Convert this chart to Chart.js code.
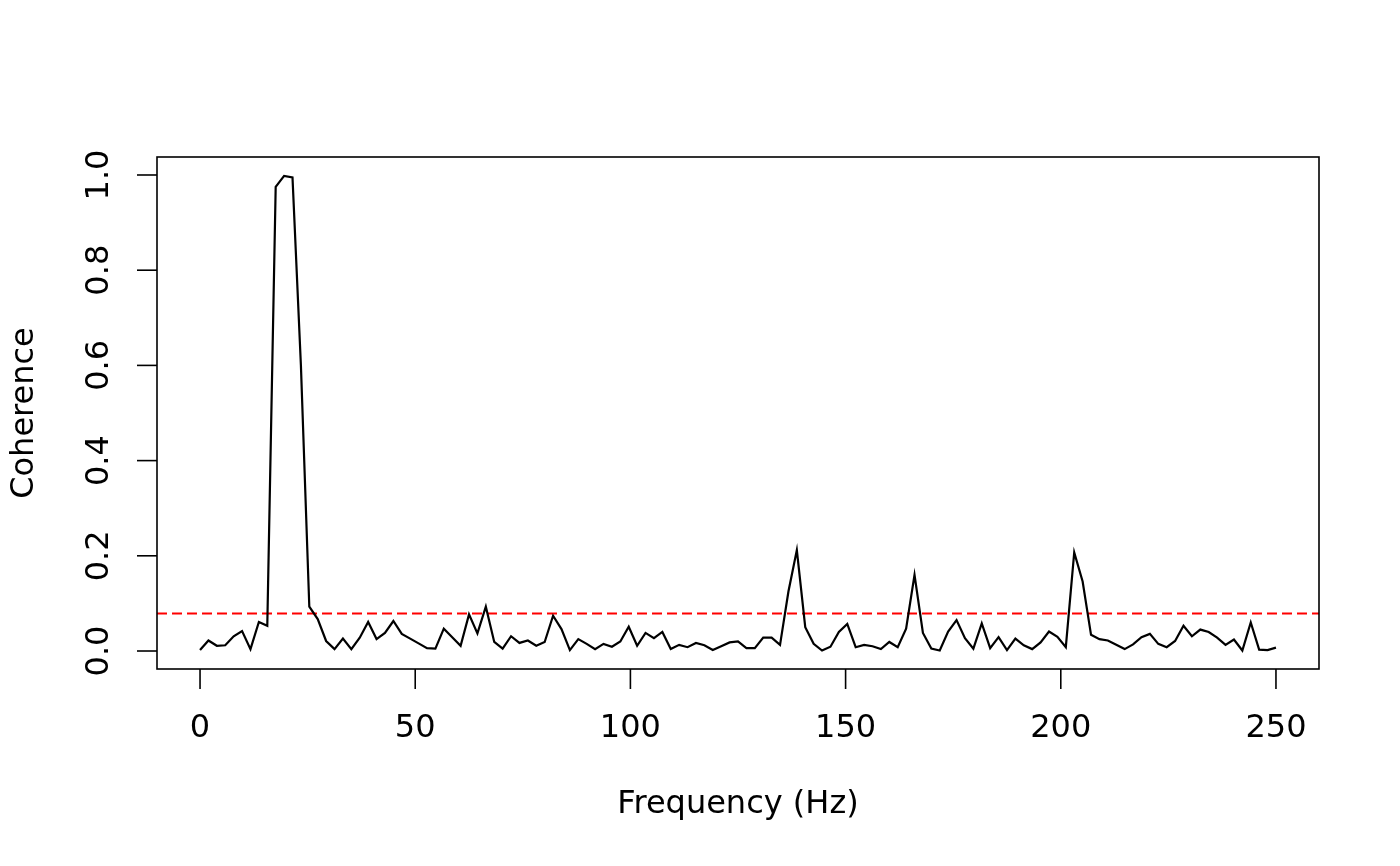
<!DOCTYPE html>
<html>
<head>
<meta charset="utf-8">
<script src="https://cdn.jsdelivr.net/npm/chart.js@4"></script>
<style>
  html, body { margin: 0; padding: 0; background: #fff; }
  #wrap { width: 1400px; height: 866px; }
</style>
</head>
<body>
<div id="wrap"><canvas id="cohChart" width="1400" height="866"></canvas></div>
<script>
// Coherence estimate, one value per frequency bin (0..250 Hz, 129 bins)
const coherence = [
    0.002, 0.022, 0.011, 0.012, 0.031, 0.042, 0.004, 0.061, 0.053, 0.975,
    0.998, 0.995, 0.600, 0.093, 0.067, 0.021, 0.004, 0.026, 0.004, 0.028,
    0.061, 0.025, 0.038, 0.063, 0.036, 0.026, 0.016, 0.006, 0.005, 0.047,
    0.029, 0.011, 0.077, 0.037, 0.093, 0.019, 0.005, 0.031, 0.017, 0.022,
    0.011, 0.019, 0.074, 0.046, 0.002, 0.025, 0.015, 0.004, 0.015, 0.009,
    0.020, 0.051, 0.011, 0.038, 0.027, 0.040, 0.004, 0.013, 0.008, 0.017,
    0.012, 0.002, 0.010, 0.018, 0.020, 0.006, 0.006, 0.028, 0.028, 0.013,
    0.125, 0.212, 0.050, 0.015, 0.001, 0.009, 0.040, 0.057, 0.008, 0.013,
    0.010, 0.004, 0.019, 0.008, 0.047, 0.160, 0.038, 0.005, 0.001, 0.041,
    0.065, 0.027, 0.005, 0.058, 0.006, 0.029, 0.002, 0.026, 0.012, 0.004,
    0.018, 0.041, 0.030, 0.008, 0.207, 0.146, 0.034, 0.025, 0.022, 0.013,
    0.004, 0.014, 0.029, 0.036, 0.015, 0.008, 0.021, 0.053, 0.031, 0.045,
    0.040, 0.028, 0.013, 0.024, 0.001, 0.060, 0.003, 0.002, 0.007
];
const nyquist = 250;
const freqStep = nyquist / (coherence.length - 1);
const freqs = coherence.map((_, i) => i * freqStep);

const threshold = 0.079;

const xTicks = [0, 50, 100, 150, 200, 250];
const yTicks = [0, 0.2, 0.4, 0.6, 0.8, 1.0];
const yTickLabels = ['0.0', '0.2', '0.4', '0.6', '0.8', '1.0'];

const FONT = '32px "DejaVu Sans"';

// R-style frame: box, outward ticks, rotated y labels
const basePlot = {
    id: 'basePlot',
    afterDraw(chart) {
        const ctx = chart.ctx;
        const area = chart.chartArea;
        const xs = chart.scales.x;
        const ys = chart.scales.y;
        ctx.save();
        ctx.strokeStyle = '#000';
        ctx.lineWidth = 1.6;
        ctx.strokeRect(area.left, area.top, area.right - area.left, area.bottom - area.top);

        ctx.fillStyle = '#000';
        ctx.font = FONT;
        ctx.textAlign = 'center';
        ctx.textBaseline = 'middle';

        xTicks.forEach(v => {
            const px = xs.getPixelForValue(v);
            ctx.beginPath();
            ctx.moveTo(px, area.bottom);
            ctx.lineTo(px, area.bottom + 20);
            ctx.stroke();
            ctx.fillText(String(v), px, 729);
        });

        yTicks.forEach((v, i) => {
            const py = ys.getPixelForValue(v);
            ctx.beginPath();
            ctx.moveTo(area.left, py);
            ctx.lineTo(area.left - 20, py);
            ctx.stroke();
            ctx.save();
            ctx.translate(100, py);
            ctx.rotate(-Math.PI / 2);
            ctx.fillText(yTickLabels[i], 0, 0);
            ctx.restore();
        });

        ctx.fillText('Frequency (Hz)', (area.left + area.right) / 2, 805);
        ctx.save();
        ctx.translate(25, (area.top + area.bottom) / 2);
        ctx.rotate(-Math.PI / 2);
        ctx.fillText('Coherence', 0, 0);
        ctx.restore();
        ctx.restore();
    }
};

new Chart(document.getElementById('cohChart').getContext('2d'), {
    type: 'line',
    data: {
        datasets: [{
            label: 'Coherence',
            data: freqs.map((f, i) => ({ x: f, y: coherence[i] })),
            borderColor: '#000',
            borderWidth: 2.2,
            pointRadius: 0,
            tension: 0,
            fill: false
        }, {
            label: 'Threshold',
            data: [{ x: -10, y: threshold }, { x: 260, y: threshold }],
            borderColor: '#ff0000',
            borderWidth: 2,
            borderDash: [10, 5],
            pointRadius: 0,
            fill: false
        }]
    },
    plugins: [basePlot],
    options: {
        responsive: false,
        animation: false,
        devicePixelRatio: 1,
        layout: {
            padding: { left: 157, right: 81, top: 157, bottom: 197 }
        },
        scales: {
            x: { type: 'linear', min: -10, max: 260, display: false },
            y: { type: 'linear', min: -0.0378, max: 1.0378, display: false }
        },
        plugins: {
            legend: { display: false },
            tooltip: { enabled: false }
        }
    }
});
</script>
</body>
</html>
